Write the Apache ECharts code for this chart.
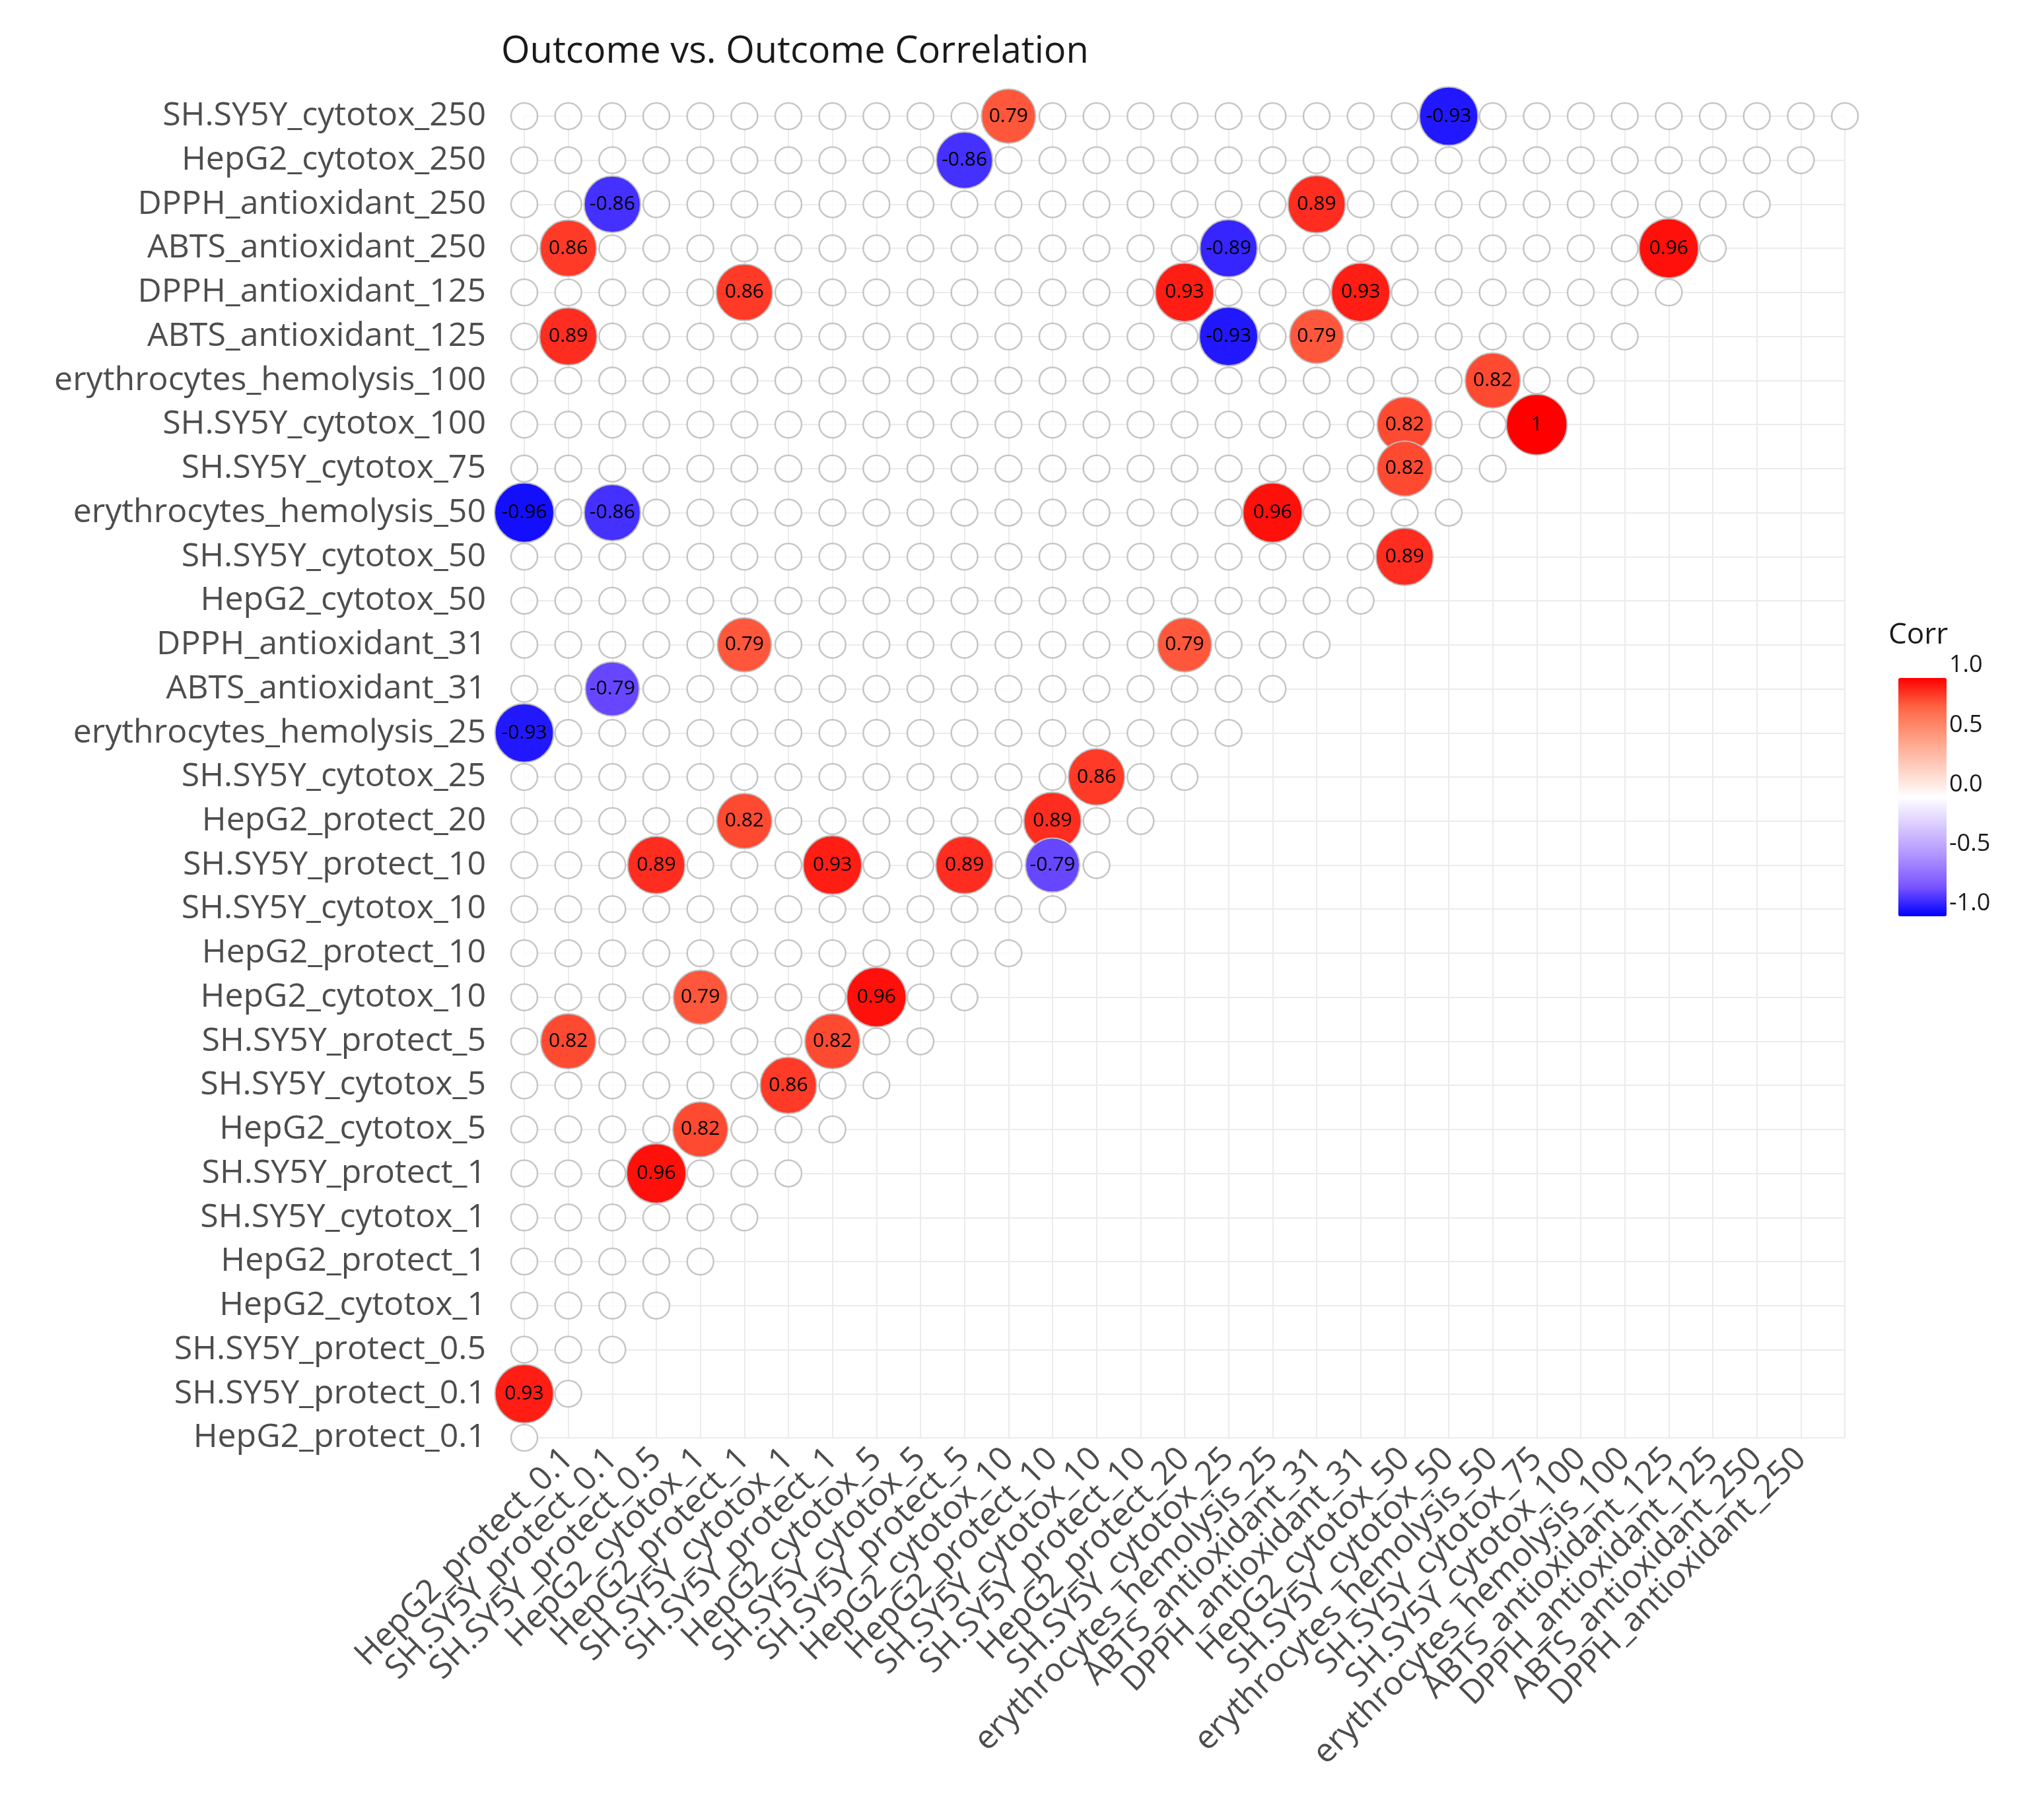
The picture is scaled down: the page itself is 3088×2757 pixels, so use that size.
<!DOCTYPE html>
<html>
<head>
<meta charset="utf-8">
<script src="https://cdn.jsdelivr.net/npm/echarts@6/dist/echarts.min.js"></script>
<style>html,body{margin:0;padding:0;background:#fff}#chart{width:3088px;height:2757px}</style>
</head>
<body>
<div id="chart"></div>
<script>
var rowNames = ["HepG2_protect_0.1", "SH.SY5Y_protect_0.1", "SH.SY5Y_protect_0.5", "HepG2_cytotox_1", "HepG2_protect_1",
    "SH.SY5Y_cytotox_1", "SH.SY5Y_protect_1", "HepG2_cytotox_5", "SH.SY5Y_cytotox_5", "SH.SY5Y_protect_5",
    "HepG2_cytotox_10", "HepG2_protect_10", "SH.SY5Y_cytotox_10", "SH.SY5Y_protect_10", "HepG2_protect_20",
    "SH.SY5Y_cytotox_25", "erythrocytes_hemolysis_25", "ABTS_antioxidant_31", "DPPH_antioxidant_31", "HepG2_cytotox_50",
    "SH.SY5Y_cytotox_50", "erythrocytes_hemolysis_50", "SH.SY5Y_cytotox_75", "SH.SY5Y_cytotox_100", "erythrocytes_hemolysis_100",
    "ABTS_antioxidant_125", "DPPH_antioxidant_125", "ABTS_antioxidant_250", "DPPH_antioxidant_250", "HepG2_cytotox_250",
    "SH.SY5Y_cytotox_250"];
var colNames = ["SH.SY5Y_protect_0.01", "HepG2_protect_0.1", "SH.SY5Y_protect_0.1", "SH.SY5Y_protect_0.5", "HepG2_cytotox_1",
    "HepG2_protect_1", "SH.SY5Y_cytotox_1", "SH.SY5Y_protect_1", "HepG2_cytotox_5", "SH.SY5Y_cytotox_5",
    "SH.SY5Y_protect_5", "HepG2_cytotox_10", "HepG2_protect_10", "SH.SY5Y_cytotox_10", "SH.SY5Y_protect_10",
    "HepG2_protect_20", "SH.SY5Y_cytotox_25", "erythrocytes_hemolysis_25", "ABTS_antioxidant_31", "DPPH_antioxidant_31",
    "HepG2_cytotox_50", "SH.SY5Y_cytotox_50", "erythrocytes_hemolysis_50", "SH.SY5Y_cytotox_75", "SH.SY5Y_cytotox_100",
    "erythrocytes_hemolysis_100", "ABTS_antioxidant_125", "DPPH_antioxidant_125", "ABTS_antioxidant_250", "DPPH_antioxidant_250",
    "HepG2_cytotox_250"];
// significant correlations: [column index, row index, corr]
var sigCells = [
    [11, 30, 0.79], [21, 30, -0.93],
    [10, 29, -0.86],
    [2, 28, -0.86], [18, 28, 0.89],
    [1, 27, 0.86], [16, 27, -0.89], [26, 27, 0.96],
    [5, 26, 0.86], [15, 26, 0.93], [19, 26, 0.93],
    [1, 25, 0.89], [16, 25, -0.93], [18, 25, 0.79],
    [22, 24, 0.82],
    [20, 23, 0.82], [23, 23, 1],
    [20, 22, 0.82],
    [0, 21, -0.96], [2, 21, -0.86], [17, 21, 0.96],
    [20, 20, 0.89],
    [5, 18, 0.79], [15, 18, 0.79],
    [2, 17, -0.79],
    [0, 16, -0.93],
    [13, 15, 0.86],
    [5, 14, 0.82], [12, 14, 0.89],
    [3, 13, 0.89], [7, 13, 0.93], [10, 13, 0.89], [12, 13, -0.79],
    [4, 10, 0.79], [8, 10, 0.96],
    [1, 9, 0.82], [7, 9, 0.82],
    [6, 8, 0.86],
    [4, 7, 0.82],
    [3, 6, 0.96],
    [0, 1, 0.93]
];
var legendTicks = [1.0, 0.5, 0.0, -0.5, -1.0];

var chart = echarts.init(document.getElementById("chart"));
var font = "Open Sans";

var emptyCells = [];
for (var r = 0; r < rowNames.length; r++) {
    for (var c = 0; c <= r && c < colNames.length; c++) emptyCells.push([c, r]);
}

var barTop = 1012, barH = 361;
var graphics = legendTicks.map(function (v) {
    return {
        type: "text", left: 2952, top: barTop + (1 - v) / 2 * barH - 22,
        style: { text: v.toFixed(1), font: "36px " + font, fill: "#1a1a1a" }
    };
});
graphics.push({ type: "text", left: 2860, top: 940, style: { text: "Corr", font: "44px " + font, fill: "#1a1a1a" } });

var option = {
    backgroundColor: "#fff",
    title: {
        text: "Outcome vs. Outcome Correlation",
        left: 754, top: 46,
        textStyle: { fontFamily: font, fontSize: 56, fontWeight: "normal", color: "#1a1a1a" }
    },
    grid: { left: 794, right: 294, top: 176, bottom: 579, outerBoundsMode: "none", containLabel: false },
    xAxis: {
        type: "value", min: 0, max: colNames.length - 1, interval: 1,
        axisLine: { show: false }, axisTick: { show: false },
        splitLine: { lineStyle: { color: "#ebebeb", width: 2 } },
        axisLabel: {
            rotate: 45, margin: 24, fontFamily: font, fontSize: 50, color: "#4d4d4d",
            formatter: function (v) { return colNames[v] || ""; }
        }
    },
    yAxis: {
        type: "value", min: 0, max: rowNames.length - 1, interval: 1,
        axisLine: { show: false }, axisTick: { show: false },
        splitLine: { lineStyle: { color: "#ebebeb", width: 2 } },
        axisLabel: {
            margin: 58, fontFamily: font, fontSize: 50, color: "#4d4d4d",
            formatter: function (v) { return rowNames[v] || ""; }
        }
    },
    visualMap: {
        type: "continuous", min: -1, max: 1, dimension: 2, seriesIndex: 1,
        calculable: false, showLabel: false, text: null,
        left: 2860, top: barTop, itemWidth: 73, itemHeight: barH,
        inRange: { color: ["#0000FF", "#7A55FF", "#AE91FF", "#D8C8FF", "#FFFFFF", "#FFCEBF", "#FF9D81", "#FF6746", "#FF0000"] }
    },
    graphic: graphics,
    series: [{
        type: "scatter", data: emptyCells, symbolSize: 40, clip: false, silent: true,
        itemStyle: { color: "#fff", borderColor: "#b8b8b8", borderWidth: 2.5 }
    }, {
        type: "scatter", data: sigCells, clip: false, z: 3,
        symbolSize: function (d) { return 92 * Math.sqrt(Math.abs(d[2])); },
        itemStyle: { borderColor: "#bdbdbd", borderWidth: 2, opacity: 1 },
        label: {
            show: true, position: "inside", color: "#000", fontFamily: font, fontSize: 30,
            formatter: function (p) { return String(p.value[2]); }
        }
    }]
};
chart.setOption(option);
</script>
</body>
</html>
